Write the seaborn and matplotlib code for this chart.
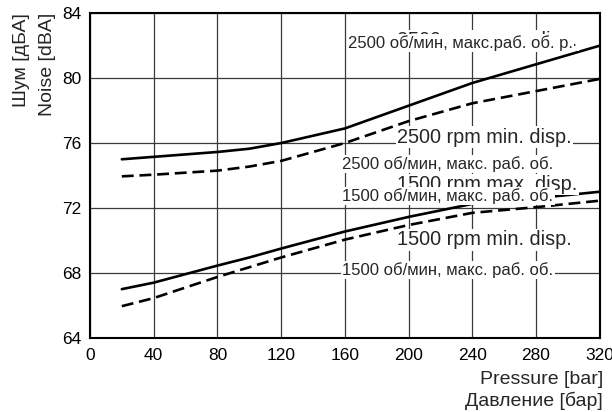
import matplotlib
matplotlib.use("Agg")
import matplotlib.pyplot as plt
import seaborn as sns
import pandas as pd

# Pressure points (bar) and noise levels (dBA) for each pump setting
pressure = [20, 40, 80, 100, 120, 160, 200, 240, 280, 320]
noise_2500_max = [75.0, 75.15, 75.45, 75.65, 76.0, 76.9, 78.3, 79.7, 80.85, 82.0]
noise_2500_min = [73.95, 74.05, 74.3, 74.55, 74.9, 76.0, 77.35, 78.45, 79.2, 79.95]
noise_1500_max = [67.0, 67.4, 68.45, 68.95, 69.5, 70.55, 71.45, 72.25, 72.6, 73.0]
noise_1500_min = [65.95, 66.45, 67.75, 68.35, 68.95, 70.05, 70.95, 71.7, 72.05, 72.45]

x_ticks = [0, 40, 80, 120, 160, 200, 240, 280, 320]
y_ticks = [64, 68, 72, 76, 80, 84]

sns.set_theme(style="white")
plt.rcParams["font.family"] = ["Liberation Sans", "DejaVu Sans"]

rows = []
for name, disp, vals in [
    ("2500 max", "max", noise_2500_max),
    ("2500 min", "min", noise_2500_min),
    ("1500 max", "max", noise_1500_max),
    ("1500 min", "min", noise_1500_min),
]:
    for p, v in zip(pressure, vals):
        rows.append({"pressure": p, "noise": v, "curve": name, "disp": disp})
df = pd.DataFrame(rows)

fig = plt.figure(figsize=(6.12, 4.12), dpi=100)
ax = fig.add_axes([0.147, 0.180, 0.833, 0.788])

sns.lineplot(
    data=df, x="pressure", y="noise", units="curve", style="disp",
    dashes={"max": "", "min": (4.5, 2.2)}, color="black",
    estimator=None, linewidth=1.9, legend=False, ax=ax, zorder=3,
)

ax.set_xlim(0, 320)
ax.set_ylim(64, 84)
ax.set_xticks(x_ticks)
ax.set_yticks(y_ticks)
ax.tick_params(axis="both", length=0, labelsize=12.5, colors="black")
ax.tick_params(axis="x", pad=7)
ax.tick_params(axis="y", pad=6)
ax.grid(True, color="#3a3a3a", linewidth=0.9)
ax.set_xlabel("")
ax.set_ylabel("")
for s in ax.spines.values():
    s.set_visible(True)
    s.set_color("black")
    s.set_linewidth(1.5)

box = dict(facecolor="white", edgecolor="none", pad=0.8)

# Curve labels (English labels partly covered by the Russian ones)
en_kw = dict(fontsize=14.3, ha="left", va="center", bbox=box, zorder=5)
ru_kw = dict(fontsize=12, ha="left", va="center", bbox=box, zorder=6)
ax.text(193, 82.3, "2500 rpm max. disp.", **en_kw)
ax.text(162, 82.15, "2500 об/мин, макс.раб. об. р.", **ru_kw)
ax.text(193, 76.37, "2500 rpm min. disp.", **en_kw)
ax.text(158.5, 74.7, "2500 об/мин, макс. раб. об.", **ru_kw)
ax.text(193, 73.45, "1500 rpm max. disp.", **en_kw)
ax.text(158.5, 72.75, "1500 об/мин, макс. раб. об.", **ru_kw)
ax.text(193, 70.03, "1500 rpm min. disp.", **en_kw)
ax.text(158.5, 68.2, "1500 об/мин, макс. раб. об.", **ru_kw)

# Axis titles
fig.text(21 / 612, 1 - 13 / 412, "Шум [дБА]", rotation=90, ha="center", va="top", fontsize=14)
fig.text(47 / 612, 1 - 13 / 412, "Noise [dBA]", rotation=90, ha="center", va="top", fontsize=14)
fig.text(603 / 612, 1 - 379 / 412, "Pressure [bar]", ha="right", va="center", fontsize=14)
fig.text(603 / 612, 1 - 401 / 412, "Давление [бар]", ha="right", va="center", fontsize=14)

fig.savefig("out.png", dpi=100)
